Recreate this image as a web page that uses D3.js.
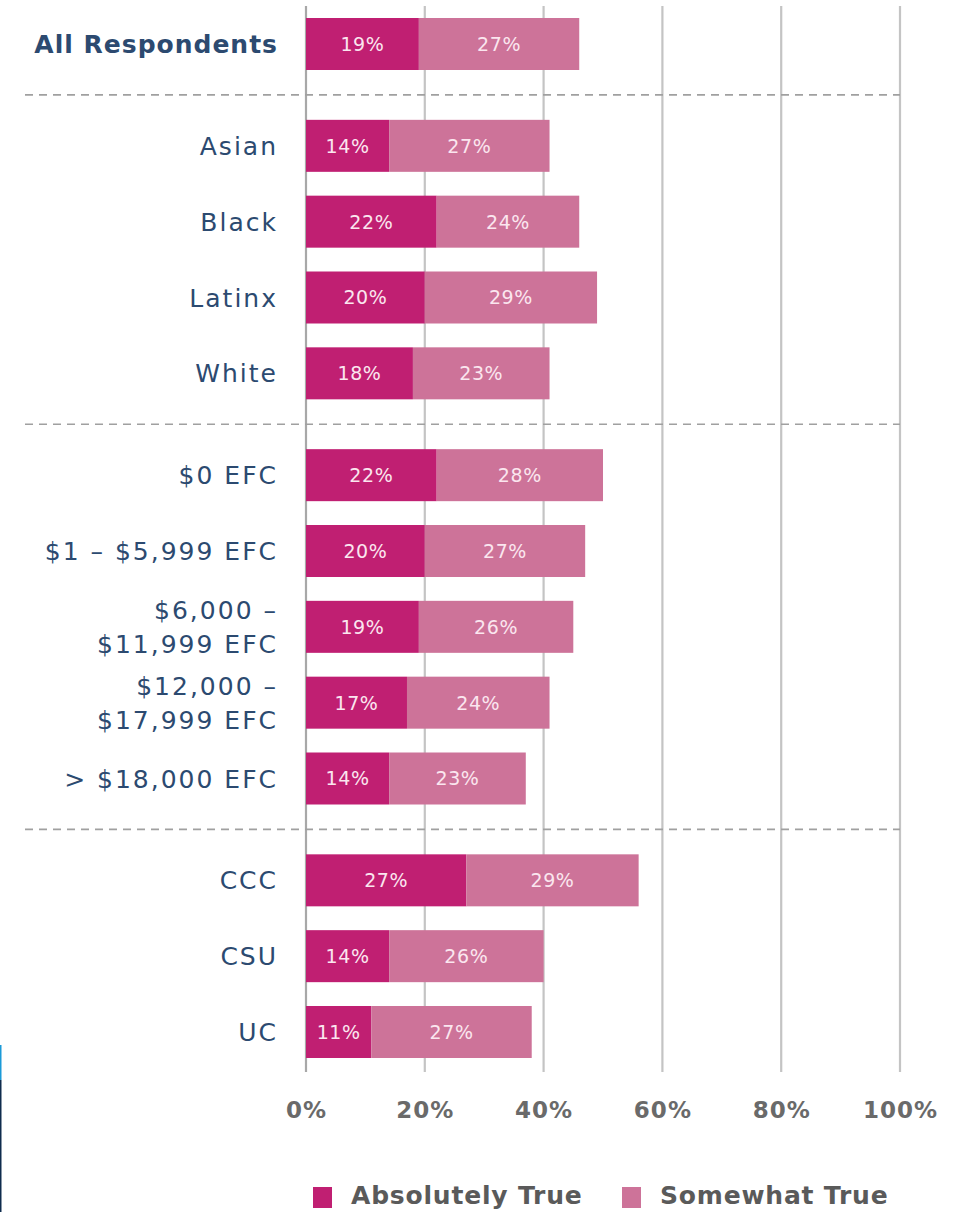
<!DOCTYPE html>
<html>
<head>
<meta charset="utf-8">
<script src="https://cdn.jsdelivr.net/npm/d3@7"></script>
<style>
  html, body { margin: 0; padding: 0; background: #fff; }
  svg { display: block; }
</style>
</head>
<body>
<svg id="chart" width="967" height="1212"></svg>
<script>
// ---- data ----
const categories = ["All Respondents", "Asian", "Black", "Latinx", "White",
  "$0 EFC", "$1 – $5,999 EFC", "$6,000 –\n$11,999 EFC", "$12,000 –\n$17,999 EFC", "> $18,000 EFC",
  "CCC", "CSU", "UC"];
const groups = [0, 1, 1, 1, 1, 2, 2, 2, 2, 2, 3, 3, 3];
const absolutelyTrue = [19, 14, 22, 20, 18, 22, 20, 19, 17, 14, 27, 14, 11];
const somewhatTrue   = [27, 27, 24, 29, 23, 28, 27, 26, 24, 23, 29, 26, 27];
const tickValues = [0, 20, 40, 60, 80, 100];
const seriesNames = ["Absolutely True", "Somewhat True"];
const seriesColors = ["#c01f72", "#cd7399"];

// ---- layout ----
const svg = d3.select("#chart");
const x = d3.scaleLinear().domain([0, 100]).range([306, 900]);
const yPoint = d3.scalePoint().domain(d3.range(categories.length)).range([44, 954]);
const groupGap = 26;
const yc = i => yPoint(i) + groups[i] * groupGap;
const barH = 52;
const labelColor = "#2c4a70";
const font = "'DejaVu Sans', sans-serif";

// left-edge decoration
svg.append("rect").attr("x", 0).attr("y", 1045).attr("width", 1.5).attr("height", 35).attr("fill", "#1b9ad8");
svg.append("rect").attr("x", 0).attr("y", 1080).attr("width", 1.5).attr("height", 132).attr("fill", "#0f2c4e");

// grid lines
svg.append("g").selectAll("line").data(tickValues).join("line")
  .attr("x1", d => x(d)).attr("x2", d => x(d))
  .attr("y1", 6).attr("y2", 1072)
  .attr("stroke", d => d === 0 ? "#a8a8a8" : "#c4c4c4")
  .attr("stroke-width", 2.2);

// dashed separators
const seps = [];
for (let i = 1; i < categories.length; i++) {
  if (groups[i] !== groups[i - 1]) seps.push((yc(i) + yc(i - 1)) / 2);
}
svg.append("g").selectAll("line").data(seps).join("line")
  .attr("x1", 25).attr("x2", x(100))
  .attr("y1", d => d).attr("y2", d => d)
  .attr("stroke", "#a0a0a0").attr("stroke-width", 1.6)
  .attr("stroke-dasharray", "8,6");

// bars
const rows = categories.map((c, i) => ({ i, c, a: absolutelyTrue[i], s: somewhatTrue[i] }));
const segs = [];
rows.forEach(r => {
  segs.push({ i: r.i, x0: 0, x1: r.a, v: r.a, k: 0 });
  segs.push({ i: r.i, x0: r.a, x1: r.a + r.s, v: r.s, k: 1 });
});
const bars = svg.append("g");
bars.selectAll("rect").data(segs).join("rect")
  .attr("x", d => x(d.x0)).attr("width", d => x(d.x1) - x(d.x0))
  .attr("y", d => yc(d.i) - barH / 2).attr("height", barH)
  .attr("fill", d => seriesColors[d.k]);
bars.selectAll("text").data(segs).join("text")
  .attr("x", d => (x(d.x0) + x(d.x1)) / 2)
  .attr("y", d => yc(d.i))
  .attr("dy", "0.36em")
  .attr("text-anchor", "middle")
  .attr("fill", "#fbe6ef")
  .attr("font-family", font).attr("font-size", 19)
  .attr("letter-spacing", 0.6)
  .text(d => d.v + "%");

// category labels
const lab = svg.append("g").selectAll("text").data(rows).join("text")
  .attr("x", 278)
  .attr("text-anchor", "end")
  .attr("fill", labelColor)
  .attr("font-family", font)
  .attr("font-size", 25)
  .attr("letter-spacing", 2)
  .attr("font-weight", d => d.i === 0 ? "bold" : "normal");
lab.each(function (d) {
  const lines = d.c.split("\n");
  const lh = 34;
  const t = d3.select(this);
  lines.forEach((ln, k) => {
    t.append("tspan")
      .attr("x", 278)
      .attr("y", yc(d.i) + (k - (lines.length - 1) / 2) * lh)
      .attr("dy", "0.36em")
      .text(ln);
  });
});
lab.filter(d => d.i === 0).attr("letter-spacing", 1);

// x axis
const axis = svg.append("g").attr("transform", "translate(0,1110)")
  .call(d3.axisBottom(x).tickValues(tickValues).tickSize(0).tickFormat(d => d + "%"));
axis.select(".domain").remove();
axis.selectAll("text")
  .attr("dy", "0.36em").attr("y", 0)
  .attr("fill", "#6a6a6a")
  .attr("font-family", font)
  .attr("font-size", 23)
  .attr("font-weight", "bold")
  .attr("letter-spacing", 1);

// legend
const legendX = [313, 622];
const lg = svg.append("g").selectAll("g").data(seriesNames).join("g")
  .attr("transform", (d, i) => `translate(${legendX[i]},1187)`);
lg.append("rect").attr("width", 19).attr("height", 21)
  .attr("fill", (d, i) => seriesColors[i]);
lg.append("text")
  .attr("x", 38).attr("y", 17)
  .attr("fill", "#5a5a5a")
  .attr("font-family", font)
  .attr("font-size", 25)
  .attr("font-weight", "bold")
  .attr("letter-spacing", 0.8)
  .text(d => d);
</script>
</body>
</html>
